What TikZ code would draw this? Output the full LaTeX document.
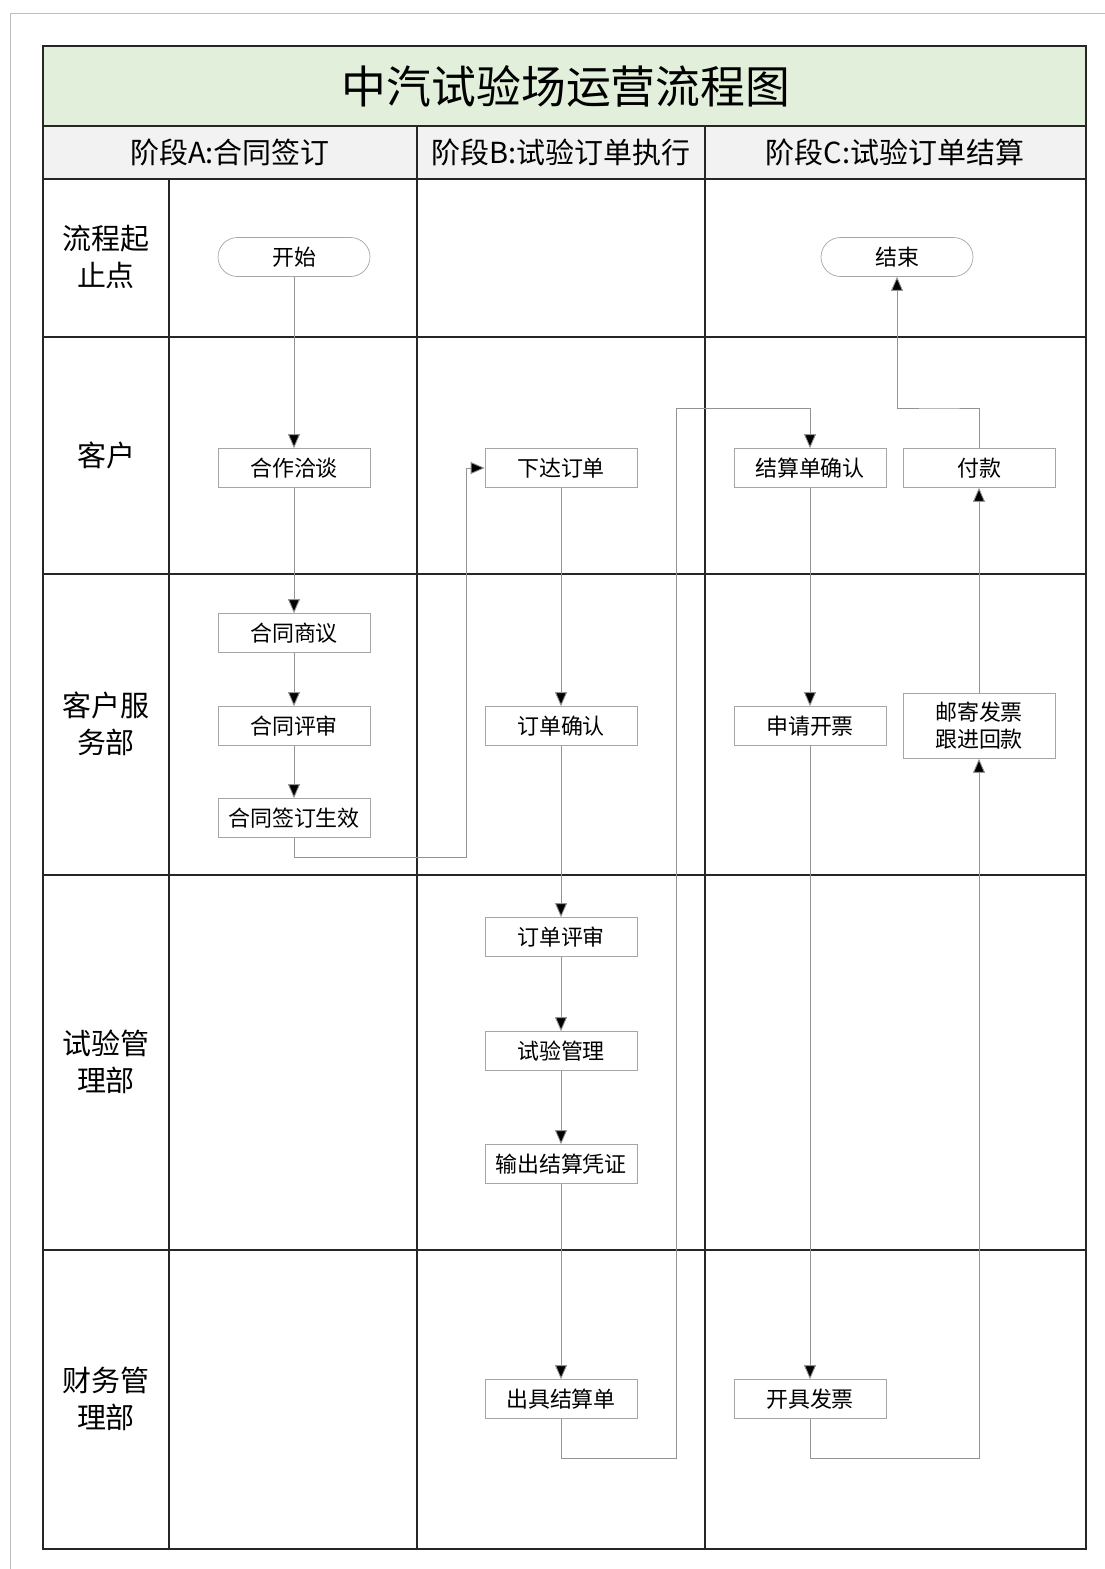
\documentclass[tikz,border=0pt]{standalone}
\usepackage{fontspec}
\setmainfont{Noto Sans CJK SC}
\usetikzlibrary{arrows.meta}
\definecolor{titlegreen}{RGB}{226,239,218}
\definecolor{headgray}{RGB}{242,242,242}

\begin{document}
\begin{tikzpicture}
  [x=0.02cm, y=-0.02cm,
   lane/.style={draw=black!85, line width=0.9pt},
   task/.style={draw=gray!70, fill=white, minimum width=3.04cm, minimum height=0.78cm,
                inner sep=1pt, align=center, font=\fontsize{12.5}{15.3}\selectfont},
   term/.style={task, rounded corners=0.39cm},
   flow/.style={draw=gray!85, line width=0.5pt, -{Triangle[length=0.28cm, width=0.24cm, fill=black]}},
   lbl/.style={align=center, font=\fontsize{16.5}{21}\selectfont}]
  \useasboundingbox (0,0) rectangle (1105,1569);
  % page frame
  \draw[gray!50] (10,1600) -- (10,13) -- (1120,13);
  % lanes
  \fill[titlegreen] (43,46) rectangle (1086,126);
  \fill[headgray] (43,126) rectangle (1086,179);
  \draw[lane] (43,46) rectangle (1086,1549);
  \draw[lane] (43,126) -- (1086,126);
  \draw[lane] (43,179) -- (1086,179);
  \foreach \y in {337,574,875,1250}
    \draw[lane] (43,\y) -- (1086,\y);
  \draw[lane] (169,179) -- (169,1549);
  \draw[lane] (417,126) -- (417,1549);
  \draw[lane] (705,126) -- (705,1549);
  % headers
  \node (title) at (566,86) {\fontsize{25.5}{30}\selectfont 中汽试验场运营流程图};
  \node[lbl] (phaseA) at (230,152) {阶段A:合同签订};
  \node[lbl] (phaseB) at (561,152) {阶段B:试验订单执行};
  \node[lbl] (phaseC) at (895,152) {阶段C:试验订单结算};
  \node[lbl] (rowEnds) at (106,257) {流程起\\止点};
  \node[lbl] (rowCust) at (106,455) {客户};
  \node[lbl] (rowServ) at (106,724) {客户服\\务部};
  \node[lbl] (rowTest) at (106,1062) {试验管\\理部};
  \node[lbl] (rowFin) at (106,1399) {财务管\\理部};
  % steps
  \node[term] (start) at (294,257) {开始};
  \node[term] (stop) at (897,257) {结束};
  \node[task] (talk) at (294,468) {合作洽谈};
  \node[task] (order) at (561,468) {下达订单};
  \node[task] (check) at (810,468) {结算单确认};
  \node[task] (pay) at (979,468) {付款};
  \node[task] (discuss) at (294,633) {合同商议};
  \node[task] (review) at (294,726) {合同评审};
  \node[task] (sign) at (294,818) {合同签订生效};
  \node[task] (confirm) at (561,726) {订单确认};
  \node[task] (apply) at (810,726) {申请开票};
  \node[task, minimum height=1.3cm] (mail) at (979,726) {邮寄发票\\跟进回款};
  \node[task] (assess) at (561,937) {订单评审};
  \node[task] (manage) at (561,1051) {试验管理};
  \node[task] (voucher) at (561,1164) {输出结算凭证};
  \node[task] (bill) at (561,1399) {出具结算单};
  \node[task] (invoice) at (810,1399) {开具发票};
  % bends
  \coordinate (bendA) at (466,857);
  \coordinate (bendB) at (676,1458);
  \coordinate (bendC) at (676,408);
  \coordinate (lowC) at (900,1458);
  \coordinate (topC) at (940,408);
  % flow
  \draw[flow] (start) -- (talk);
  \draw[flow] (talk) -- (discuss);
  \draw[flow] (discuss) -- (review);
  \draw[flow] (review) -- (sign);
  \draw[flow] (sign.south) |- (bendA) |- (order.west);
  \draw[flow] (order) -- (confirm);
  \draw[flow] (confirm) -- (assess);
  \draw[flow] (assess) -- (manage);
  \draw[flow] (manage) -- (voucher);
  \draw[flow] (voucher) -- (bill);
  \draw[flow] (bill.south) |- (bendB) -- (bendC) -| (check.north);
  \draw[flow] (check) -- (apply);
  \draw[flow] (apply) -- (invoice);
  \draw[flow] (invoice.south) |- (lowC) -| (mail.south);
  \draw[flow] (mail) -- (pay);
  \draw[flow] (pay.north) |- (topC) -| (stop.south);
\end{tikzpicture}
\end{document}
